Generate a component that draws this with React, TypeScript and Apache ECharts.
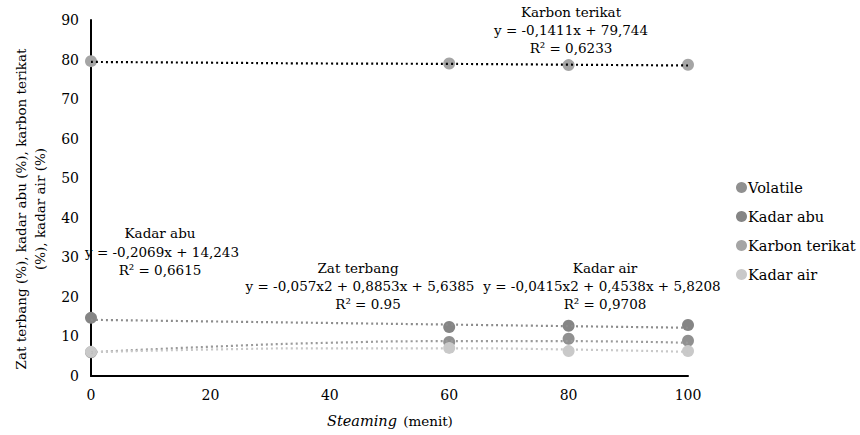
import React, { useEffect, useRef } from "react";
import * as echarts from "echarts";

const steamX = [0, 60, 80, 100];
const volatileVals = [6.0, 8.6, 9.4, 8.9];
const kadarAbuVals = [14.7, 12.4, 12.7, 12.9];
const karbonVals = [79.6, 79.0, 78.6, 78.7];
const kadarAirVals = [6.1, 7.1, 6.3, 6.3];

const trendX = [0, 20, 40, 60, 80, 100];
const trendKarbon = [79.4, 79.2, 79.0, 78.9, 78.7, 78.5];
const trendAbu = [14.2, 13.8, 13.4, 13.0, 12.6, 12.2];
const trendZat = [6.0, 7.4, 8.4, 8.8, 8.8, 8.4];
const trendAir = [6.0, 6.7, 7.0, 7.0, 6.7, 6.1];

const seriesNames = ["Volatile", "Kadar abu", "Karbon terikat", "Kadar air"];
const seriesColors = ["#909090", "#858585", "#a5a5a5", "#c9c9c9"];

const yTitleLines = ["Zat terbang (%), kadar abu (%), karbon terikat", "(%), kadar air (%)"];

const FONT = "DejaVu Serif";
const FS = 13.5;

function pairs(xs: number[], ys: number[]) {
  return xs.map((x, i) => [x, ys[i]]);
}

export default function App() {
  const ref = useRef<HTMLDivElement>(null);
  useEffect(() => {
    if (!ref.current) return;
    const chart = echarts.init(ref.current, undefined, { renderer: "svg" });
    const pointSets = [volatileVals, kadarAbuVals, karbonVals, kadarAirVals];
    const trendSets = [
      { d: trendKarbon, c: "#000000" },
      { d: trendAbu, c: "#8c8c8c" },
      { d: trendZat, c: "#9a9a9a" },
      { d: trendAir, c: "#c8c8c8" },
    ];
    const txt = (x: number, y: number, t: string) => ({
      type: "text",
      x,
      y,
      style: {
        text: t,
        fontFamily: FONT,
        fontSize: FS,
        fill: "#000",
        textAlign: "center",
        textVerticalAlign: "middle",
      },
      z: 100,
    });
    const rot = (x: number, t: string) => ({
      type: "text",
      x,
      y: 209,
      rotation: Math.PI / 2,
      style: {
        text: t,
        fontFamily: FONT,
        fontSize: FS,
        fill: "#000",
        textAlign: "center",
        textVerticalAlign: "middle",
      },
    });
    chart.setOption({
      animation: false,
      grid: { left: 91, right: 172, top: 20, bottom: 59, containLabel: false },
      xAxis: {
        type: "value",
        min: 0,
        max: 100,
        interval: 20,
        axisLine: { show: true, lineStyle: { color: "#000", width: 2 } },
        axisTick: { show: false },
        splitLine: { show: false },
        axisLabel: { fontFamily: FONT, fontSize: 14, color: "#000", margin: 12 },
      },
      yAxis: {
        type: "value",
        min: 0,
        max: 90,
        interval: 10,
        axisLine: { show: true, lineStyle: { color: "#000", width: 2 } },
        axisTick: { show: false },
        splitLine: { show: false },
        axisLabel: { fontFamily: FONT, fontSize: 14, color: "#000", margin: 12 },
      },
      legend: {
        orient: "vertical",
        left: 731,
        top: 175,
        icon: "circle",
        itemWidth: 11,
        itemHeight: 11,
        itemGap: 14,
        data: seriesNames,
        textStyle: { fontFamily: FONT, fontSize: 14.5, color: "#000", padding: [0, 0, 0, -4] },
      },
      series: [
        ...pointSets.map((vals, i) => ({
          name: seriesNames[i],
          type: "scatter",
          symbol: "circle",
          symbolSize: 12,
          itemStyle: { color: seriesColors[i], opacity: 1 },
          data: pairs(steamX, vals),
          z: 2,
        })),
        ...trendSets.map((t) => ({
          type: "line",
          showSymbol: false,
          symbol: "none",
          smooth: true,
          silent: true,
          lineStyle: { color: t.c, width: 2.2, type: [2, 3] },
          data: pairs(trendX, t.d),
          z: 5,
        })),
      ],
      graphic: [
        txt(571, 12, "Karbon terikat"),
        txt(571, 30, "y = -0,1411x + 79,744"),
        txt(571, 48, "R² = 0,6233"),
        txt(160, 233, "Kadar abu"),
        txt(162, 252, "y = -0,2069x + 14,243"),
        txt(160, 270, "R² = 0,6615"),
        txt(358, 268, "Zat terbang"),
        txt(360, 286, "y = -0,057x2 + 0,8853x + 5,6385"),
        txt(368, 304, "R² = 0.95"),
        txt(605, 268, "Kadar air"),
        txt(602, 286, "y = -0,0415x2 + 0,4538x + 5,8208"),
        txt(605, 304, "R² = 0,9708"),
        rot(21, yTitleLines[0]),
        rot(40, yTitleLines[1]),
        {
          type: "text",
          x: 362,
          y: 421,
          style: {
            text: "Steaming",
            fontFamily: FONT,
            fontSize: 14.5,
            fontStyle: "italic",
            fill: "#000",
            textAlign: "center",
            textVerticalAlign: "middle",
          },
        },
        {
          type: "text",
          x: 428,
          y: 421,
          style: {
            text: "(menit)",
            fontFamily: FONT,
            fontSize: FS,
            fill: "#000",
            textAlign: "center",
            textVerticalAlign: "middle",
          },
        },
      ],
    });
    return () => chart.dispose();
  }, []);
  return (
    <div style={{ position: "fixed", left: 0, top: 0, width: 860, height: 435, background: "#fff" }}>
      <div ref={ref} style={{ position: "absolute", left: 0, top: 0, width: 860, height: 435 }} />
    </div>
  );
}
